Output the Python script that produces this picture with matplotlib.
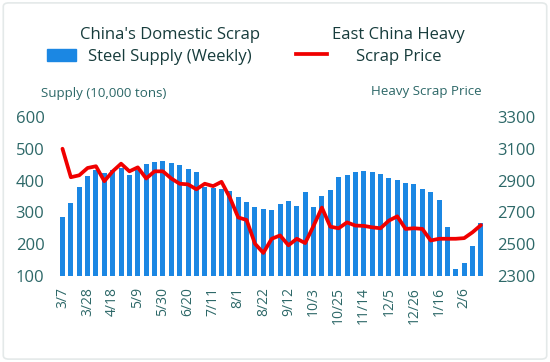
#!/usr/bin/env python3
"""
Weekly domestic scrap steel supply (bars) vs East China heavy scrap price (line)
"""

import matplotlib
matplotlib.use('Agg')
import matplotlib.pyplot as plt
from matplotlib.patches import Rectangle, FancyBboxPatch
from matplotlib.lines import Line2D
import numpy as np

plt.rcParams['font.family'] = ['Open Sans', 'DejaVu Sans']

# weekly supply, 10,000 tons (3/7 .. 2/20)
supply = [284, 329, 380, 413, 432, 424, 432, 440, 419, 434, 452, 459, 462,
          456, 450, 436, 426, 380, 378, 372, 367, 347, 332, 318, 311, 308,
          326, 336, 319, 364, 316, 353, 371, 411, 416, 426, 431, 426, 421,
          407, 402, 392, 389, 375, 364, 339, 253, 121, 142, 193, 267]

# East China heavy scrap price
price = [3100, 2921, 2933, 2979, 2990, 2896, 2958, 3006, 2958, 2983, 2913,
         2958, 2958, 2913, 2880, 2876, 2845, 2880, 2865, 2892, 2793, 2668,
         2652, 2503, 2445, 2534, 2555, 2493, 2534, 2507, 2615, 2730, 2610,
         2600, 2637, 2617, 2615, 2606, 2600, 2648, 2675, 2596, 2600, 2596,
         2523, 2534, 2534, 2534, 2538, 2575, 2620]

# every third week gets a label
tick_labels = ['3/7', '3/28', '4/18', '5/9', '5/30', '6/20', '7/11', '8/1',
               '8/22', '9/12', '10/3', '10/25', '11/14', '12/5', '12/26',
               '1/16', '2/6']

BLUE = '#1b87e3'
RED = '#f00000'
TICK_COLOR = '#2d6868'
TEXT_COLOR = '#173c3c'

fig = plt.figure(figsize=(5.5, 3.62), dpi=100)
ax = fig.add_axes([0.106, 0.2376, 0.776, 0.4394])
ax2 = ax.twinx()

x = np.arange(len(supply))
ax.bar(x, supply, width=0.6, color=BLUE, zorder=2)
ax2.plot(x, price, color=RED, lw=2.7, solid_joinstyle='round',
         solid_capstyle='round', zorder=3)

ax.set_xlim(-0.5, len(supply) - 0.5)
ax.set_ylim(100, 600)
ax2.set_ylim(2300, 3300)
ax.set_yticks(np.arange(100, 601, 100))
ax2.set_yticks(np.arange(2300, 3301, 200))

ax.set_xticks(x[::3])
ax.set_xticklabels(tick_labels, rotation=90)

ax.tick_params(axis='x', length=0, pad=8, labelsize=10, labelcolor=TICK_COLOR)
ax.tick_params(axis='y', length=0, pad=10, labelsize=12, labelcolor=TICK_COLOR)
ax2.tick_params(axis='y', length=0, pad=9, labelsize=12, labelcolor=TICK_COLOR)

for a in (ax, ax2):
    for s in a.spines.values():
        s.set_visible(False)

# axis titles above the plot
fig.text(0.189, 0.743, 'Supply (10,000 tons)', ha='center', va='center',
         fontsize=9.6, color=TICK_COLOR)
fig.text(0.776, 0.746, 'Heavy Scrap Price', ha='center', va='center',
         fontsize=9.6, color=TICK_COLOR)

# legend drawn by hand (Excel style, two-line labels)
fig.patches.append(Rectangle((0.0855, 0.8315), 0.0527, 0.0331,
                             transform=fig.transFigure, color=BLUE))
fig.lines.append(Line2D([0.538, 0.595], [0.851, 0.851],
                        transform=fig.transFigure, color=RED, lw=2.7))
fig.text(0.309, 0.873, "China's Domestic Scrap\nSteel Supply (Weekly)",
         ha='center', va='center', fontsize=12, color=TEXT_COLOR,
         linespacing=1.5)
fig.text(0.725, 0.873, 'East China Heavy\nScrap Price',
         ha='center', va='center', fontsize=12, color=TEXT_COLOR,
         linespacing=1.5)

# faint outer frame
fig.patches.append(FancyBboxPatch((0.006, 0.008), 0.988, 0.984,
                                  boxstyle='round,pad=0,rounding_size=0.01',
                                  transform=fig.transFigure, fill=False,
                                  edgecolor='#e4e9e9', lw=1.2))

plt.savefig('out.png', dpi=100)
